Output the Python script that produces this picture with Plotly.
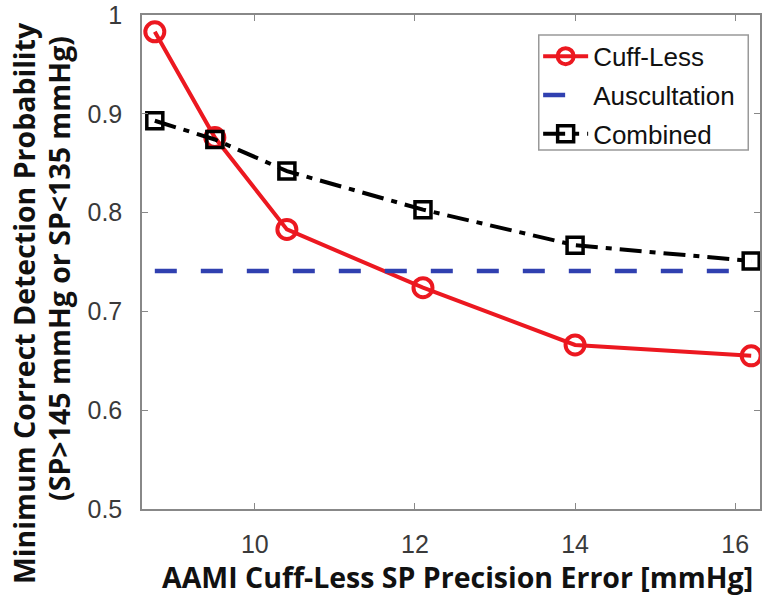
import plotly.graph_objects as go

x_cuffless = [8.75, 9.5, 10.4, 12.1, 14.0, 16.2]
y_cuffless = [0.983, 0.876, 0.783, 0.724, 0.666, 0.655]
x_combined = [8.75, 9.5, 10.4, 12.1, 14.0, 16.2]
y_combined = [0.893, 0.874, 0.842, 0.803, 0.767, 0.751]
x_ausc = [8.75, 16.2]
y_ausc = [0.741, 0.741]

x_ticks = [10, 12, 14, 16]
y_ticks = [0.5, 0.6, 0.7, 0.8, 0.9, 1.0]
y_ticklabels = ["0.5", "0.6", "0.7", "0.8", "0.9", "1"]

x_title = "AAMI Cuff-Less SP Precision Error [mmHg]"
y_title_1 = "Minimum Correct Detection Probability"
y_title_2 = "(SP>145 mmHg or SP<135 mmHg)"

title_font = dict(size=28.5, color="#111111", family="Open Sans")

fig = go.Figure()
fig.add_trace(go.Scatter(
    x=x_cuffless, y=y_cuffless, name="Cuff-Less", mode="lines+markers", legendgroup="a",
    line=dict(color="#ec1820", width=4),
    marker=dict(symbol="circle-open", size=19, color="#ec1820", line=dict(width=4, color="#ec1820")),
))
fig.add_trace(go.Scatter(
    x=x_ausc, y=y_ausc, name="Auscultation", mode="lines", legendgroup="b",
    line=dict(color="#3040b0", width=4.5, dash="22px,24px"),
))
fig.add_trace(go.Scatter(
    x=x_combined, y=y_combined, name="Combined", mode="lines+markers", legendgroup="c",
    line=dict(color="black", width=4, dash="22px,8px,6px,8px"),
    marker=dict(symbol="square-open", size=16, color="black", line=dict(width=3.5, color="black")),
))

fig.update_layout(
    width=762, height=599,
    margin=dict(l=142, r=2, t=15, b=90, autoexpand=False),
    paper_bgcolor="white", plot_bgcolor="white",
    font=dict(family="Liberation Sans, Arial", color="#333333"),
    showlegend=True,
    legend=dict(
        x=0.641, y=0.964, xanchor="left", yanchor="top",
        bgcolor="rgba(0,0,0,0)", borderwidth=0,
        font=dict(size=26, color="#111111", family="Liberation Sans, Arial"),
        itemwidth=45, tracegroupgap=2,
    ),
    shapes=[
        dict(type="rect", xref="paper", yref="paper", x0=0.642, x1=0.981, y0=0.7267, y1=0.9595,
             fillcolor="white", line=dict(color="#999999", width=1.5), layer="above"),
    ],
    xaxis=dict(
        range=[8.59, 16.31], tickvals=x_ticks, ticktext=[str(v) for v in x_ticks],
        showgrid=False, zeroline=False, showline=True, linecolor="#888888", linewidth=1.5,
        mirror="ticks", ticks="inside", ticklen=6, tickcolor="#888888",
        tickfont=dict(size=25, color="#3a3a3a"), ticklabelstandoff=12,
    ),
    yaxis=dict(
        range=[0.5, 1.0], tickvals=y_ticks, ticktext=y_ticklabels,
        showgrid=False, zeroline=False, showline=True, linecolor="#888888", linewidth=1.5,
        mirror="ticks", ticks="inside", ticklen=6, tickcolor="#888888",
        tickfont=dict(size=25, color="#3a3a3a"), ticklabelstandoff=13,
    ),
    annotations=[
        dict(text="<b>%s</b>" % x_title, xref="paper", yref="paper", x=0.51, y=-0.137,
             xanchor="center", yanchor="middle", showarrow=False, font=title_font),
        dict(text="<b>%s</b>" % y_title_1, xref="paper", yref="paper", x=0, xshift=-118, y=0.417,
             xanchor="center", yanchor="middle", showarrow=False, textangle=-90, font=title_font),
        dict(text="<b>%s</b>" % y_title_2, xref="paper", yref="paper", x=0, xshift=-83, y=0.486,
             xanchor="center", yanchor="middle", showarrow=False, textangle=-90, font=title_font),
    ],
)

fig.write_html(
    "out.html",
    config={"displayModeBar": False},
    post_script="document.body.style.margin='0';document.body.style.overflow='hidden';",
)
